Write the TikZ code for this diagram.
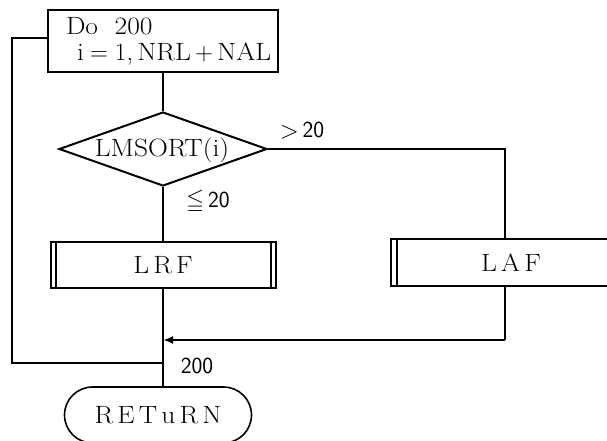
\documentclass[tikz,border=0pt]{standalone}
\usepackage{amssymb}
\usepackage{fontspec}
\setmainfont{Latin Modern Roman}[FakeStretch=1.1]
\usetikzlibrary{shapes.geometric,arrows.meta}
\begin{document}
\begin{tikzpicture}[x=1pt,y=-1pt,
  every node/.style={font=\fontsize{25}{28}\selectfont},
  ln/.style={line width=2pt},
  procbox/.style={draw,line width=2pt,rectangle,inner sep=0pt},
  decbox/.style={draw,line width=2pt,diamond,inner sep=0pt,minimum width=208pt,minimum height=74pt,aspect=2.8},
  termbox/.style={draw,line width=1.6pt,rectangle,rounded corners=28pt,inner sep=0pt,minimum width=187pt,minimum height=56pt},
  lbl/.style={inner sep=0pt,font=\fontsize{23}{26}\selectfont\sffamily},
  arr/.style={line width=2pt,-{Latex[length=10pt,width=8pt]}}
]
\useasboundingbox (0,0) rectangle (607,441);
\clip (0,0) rectangle (607,441);

\node[procbox,minimum width=230pt,minimum height=62pt,align=left,text width=226pt] (do) at (163,41)
  {\hspace*{16pt}Do\ \ 200\\[-2pt]\hspace*{27pt}$\mathrm{i}=1$,\,NRL$\,+\,$NAL};
\node[decbox] (dec) at (163,149) {};
\node[inner sep=0pt] (dectxt) at (162,150) {LMSORT(i)};
\node[procbox,minimum width=225pt,minimum height=46pt] (lrf) at (163,265) {L\,R\,F};
\node[procbox,minimum width=240pt,minimum height=47pt] (laf) at (511,262.5) {L\,A\,F};
\node[termbox] (ret) at (158,415) {R\,E\,T\,u\,R\,N};

\draw[ln] ([xshift=6pt]lrf.north west) -- ([xshift=6pt]lrf.south west);
\draw[ln] ([xshift=-6pt]lrf.north east) -- ([xshift=-6pt]lrf.south east);
\draw[ln] ([xshift=7pt]laf.north west) -- ([xshift=7pt]laf.south west);

\node[lbl] (gt) at (302,131) {\raisebox{-1pt}{\fontsize{30}{30}\selectfont$>$}\,20};
\node[lbl] (le) at (208,202) {$\leqq$\,20};
\node[lbl] (n200) at (197,366) {200};

\coordinate (c1) at (505,149);
\coordinate (lafin) at (505,239);
\coordinate (lafout) at (505,286);
\coordinate (c2) at (505,340);
\coordinate (j1) at (163,340);
\coordinate (j2) at (163,363);
\coordinate (c3) at (12,363);

\draw[ln] (do.south) -- (dec.north);
\draw[ln] (dec.south) -- (lrf.north);
\draw[ln] (dec.east) -- (c1) -- (lafin);
\draw[ln] (lrf.south) -- (lrf.south |- ret.north);
\draw[ln] (lafout) -- (c2);
\draw[arr] (c2) -- (j1);
\draw[ln] ([yshift=3pt]do.west) -| (c3) -- (j2);
\end{tikzpicture}
\end{document}
